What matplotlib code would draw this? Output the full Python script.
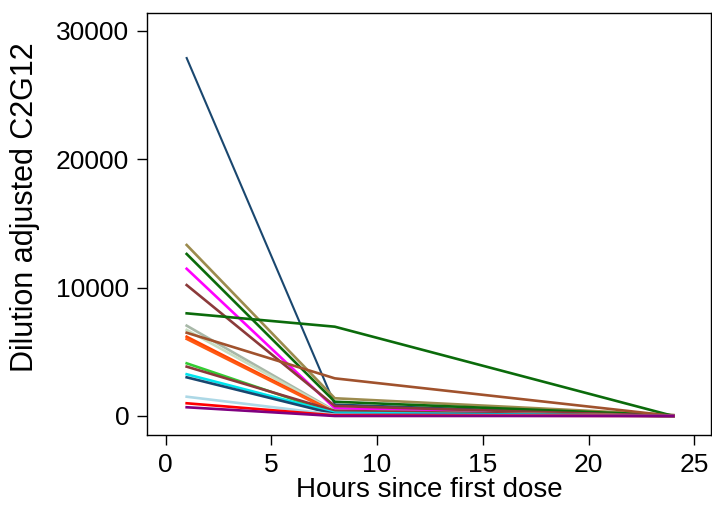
import numpy as np
import matplotlib
matplotlib.use("Agg")
import matplotlib.pyplot as plt

plt.rcParams['font.family'] = ['Liberation Sans', 'DejaVu Sans']

hours = [1, 8, 24]

# C2G12 per subject at 1, 8 and 24 h
subj_vals = [
    [27860, 900, 0],
    [13310, 1380, 80],
    [12610, 1110, 50],
    [11460, 600, 0],
    [10190, 780, 0],
    [7990, 6950, 0],
    [7030, 400, 0],
    [6700, 350, 0],
    [6480, 2930, 0],
    [6170, 300, 0],
    [6000, 250, 0],
    [4100, 200, 0],
    [3840, 400, 0],
    [3250, 250, 0],
    [3010, 150, 0],
    [1500, 100, 0],
    [990, 50, 0],
    [680, 0, 0],
]
subj_colors = [
    "#1a476f", "#9c8b4e", "#0b6b0b", "#ff00ff", "#8b3a3a", "#0b6b0b",
    "#a8b8a8", "#c8dcc0", "#a0522d", "#ff4500", "#ff5a14", "#33cc33",
    "#8b3a3a", "#00e5ee", "#1a476f", "#add8e6", "#ff0000", "#800080",
]

fig = plt.figure(figsize=(7.12, 5.07), dpi=100)
ax = fig.add_axes([0.2069, 0.142, 0.7917, 0.833])

for vals, c in zip(subj_vals, subj_colors):
    lw = 1.5 if vals[0] > 20000 else 1.9
    ax.plot(hours, vals, color=c, lw=lw)

ax.set_xlim(-0.86, 25.78)
ax.set_ylim(-1480, 31390)
ax.set_xticks([0, 5, 10, 15, 20, 25])
ax.set_yticks([0, 10000, 20000, 30000])
ax.tick_params(length=7, width=1, labelsize=19, pad=6)
for s in ax.spines.values():
    s.set_linewidth(1)
ax.set_xlabel("Hours since first dose", fontsize=20, labelpad=0)
ax.set_ylabel("Dilution adjusted C2G12", fontsize=22)
ax.yaxis.set_label_coords(-0.19, 0.54)

fig.savefig("out.png", dpi=100)
